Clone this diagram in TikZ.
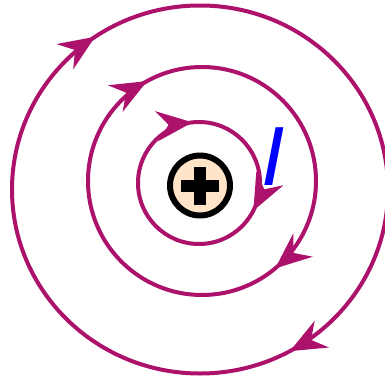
\documentclass[tikz,border=0pt]{standalone}
\usepackage{fontspec}
\newfontfamily\labelfont{Liberation Sans}
\usetikzlibrary{arrows.meta}
\usetikzlibrary{decorations.markings}
\definecolor{fieldline}{RGB}{172,18,108}
\definecolor{ioncore}{RGB}{255,228,200}
\tikzset{field/.style={draw=fieldline, line width=4pt}}
\tikzset{fieldtip/.tip={Stealth[length=36pt, width=30pt, inset=12pt]}}
\tikzset{ion/.style={circle, draw=black, fill=ioncore, line width=6pt, minimum size=60pt, inner sep=0pt}}
\tikzset{current/.style={text=blue, inner sep=0pt, font=\labelfont\itshape\fontsize{84}{84}\selectfont}}

\begin{document}
\begin{tikzpicture}[x=1pt, y=1pt]
	\useasboundingbox (0,0) rectangle (385,376);

	% Outer loop
	\draw[field, postaction={decorate},
		decoration={markings,
			mark=at position 0.17 with {\arrow{fieldtip}},
			mark=at position 0.655 with {\arrow{fieldtip}}}]
		(388,186.5) arc[start angle=0, end angle=-360, x radius=188, y radius=184];

	% Middle loop
	\draw[field, postaction={decorate},
		decoration={markings,
			mark=at position 0.139 with {\arrow{fieldtip}},
			mark=at position 0.67 with {\arrow{fieldtip}}}]
		(316,195) arc[start angle=0, end angle=-360, radius=114];

	% Inner loop
	\draw[field, postaction={decorate},
		decoration={markings,
			mark=at position 0.075 with {\arrow{fieldtip}},
			mark=at position 0.733 with {\arrow{fieldtip}}}]
		(260,193) arc[start angle=0, end angle=-360, radius=61];

	% Positive charge
	\node[ion] (core) at (200,190.5) {};
	\fill (core.center) ++(-19,-6) rectangle ++(38,12);
	\fill (core.center) ++(-6,-19) rectangle ++(12,38);

	% Current label
	\node[current] (label) at (273,219.5) {I};
\end{tikzpicture}
\end{document}
